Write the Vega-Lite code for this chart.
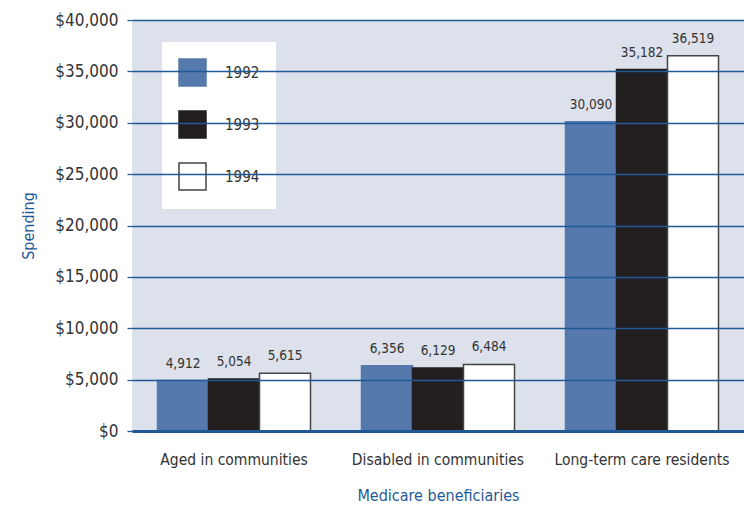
{
  "$schema": "https://vega.github.io/schema/vega-lite/v6.json",
  "width": 612,
  "height": 411,
  "autosize": "none",
  "padding": {"left": 132, "top": 20, "right": 0, "bottom": 78},
  "background": "white",
  "config": {
    "font": "DejaVu Sans Condensed, sans-serif",
    "view": {"fill": "#dce1ec", "stroke": null}
  },
  "data": {
    "values": [
      {"group": "Aged in communities", "year": "1992", "spending": 4912},
      {"group": "Aged in communities", "year": "1993", "spending": 5054},
      {"group": "Aged in communities", "year": "1994", "spending": 5615},
      {"group": "Disabled in communities", "year": "1992", "spending": 6356},
      {"group": "Disabled in communities", "year": "1993", "spending": 6129},
      {"group": "Disabled in communities", "year": "1994", "spending": 6484},
      {"group": "Long-term care residents", "year": "1992", "spending": 30090},
      {"group": "Long-term care residents", "year": "1993", "spending": 35182},
      {"group": "Long-term care residents", "year": "1994", "spending": 36519}
    ]
  },
  "encoding": {
    "x": {
      "field": "group", "type": "nominal", "sort": null,
      "scale": {"paddingInner": 0.25, "paddingOuter": 0.125},
      "axis": {
        "title": "Medicare beneficiaries", "labelAngle": 0, "ticks": false, "labelLimit": 0,
        "domainColor": "#1f5a96", "domainWidth": 3,
        "labelFontSize": 15.5, "labelColor": "#333", "labelPadding": 21,
        "titleFontSize": 16, "titleColor": "#1f5a96", "titleFontWeight": "normal", "titlePadding": 20,
        "zindex": 2
      }
    },
    "xOffset": {"field": "year", "type": "nominal"},
    "y": {
      "field": "spending", "type": "quantitative",
      "scale": {"domain": [0, 40000], "nice": false},
      "axis": {
        "title": "Spending", "format": "$,.0f", "values": [0,5000,10000,15000,20000,25000,30000,35000,40000],
        "labelOverlap": false,
        "grid": true, "gridColor": "#1f5a96", "gridWidth": 1.3, "gridOpacity": 1,
        "tickColor": "#1f5a96", "tickSize": 5, "tickWidth": 1.3, "domain": false,
        "labelFontSize": 17, "labelColor": "#333", "labelPadding": 9,
        "titleFontSize": 16, "titleColor": "#1f5a96", "titleFontWeight": "normal", "titlePadding": 18,
        "zindex": 2
      }
    }
  },
  "layer": [
    {
      "mark": {"type": "bar", "strokeWidth": 1.5},
      "encoding": {
        "fill": {
          "field": "year", "type": "nominal",
          "scale": {"range": ["#5679ad", "#231f20", "#ffffff"]},
          "legend": {
            "title": null, "orient": "none", "legendX": 30, "legendY": 22,
            "fillColor": "white", "padding": 16, "symbolType": "square", "symbolSize": 729,
            "rowPadding": 19, "labelFontSize": 15, "labelColor": "#333", "labelOffset": 18,
            "symbolStrokeWidth": 1.5, "zindex": 0
          }
        },
        "stroke": {
          "field": "year", "type": "nominal",
          "scale": {"range": ["#5679ad", "#231f20", "#444444"]},
          "legend": {
            "title": null, "orient": "none", "legendX": 30, "legendY": 22,
            "fillColor": "white", "padding": 16, "symbolType": "square", "symbolSize": 729,
            "rowPadding": 19, "labelFontSize": 15, "labelColor": "#333", "labelOffset": 18,
            "symbolStrokeWidth": 1.5, "zindex": 0
          }
        }
      }
    },
    {
      "mark": {"type": "text", "dy": -10, "fontSize": 13.5, "color": "#333", "baseline": "bottom"},
      "encoding": {
        "text": {"field": "spending", "type": "quantitative", "format": ",.0f"}
      }
    }
  ]
}
